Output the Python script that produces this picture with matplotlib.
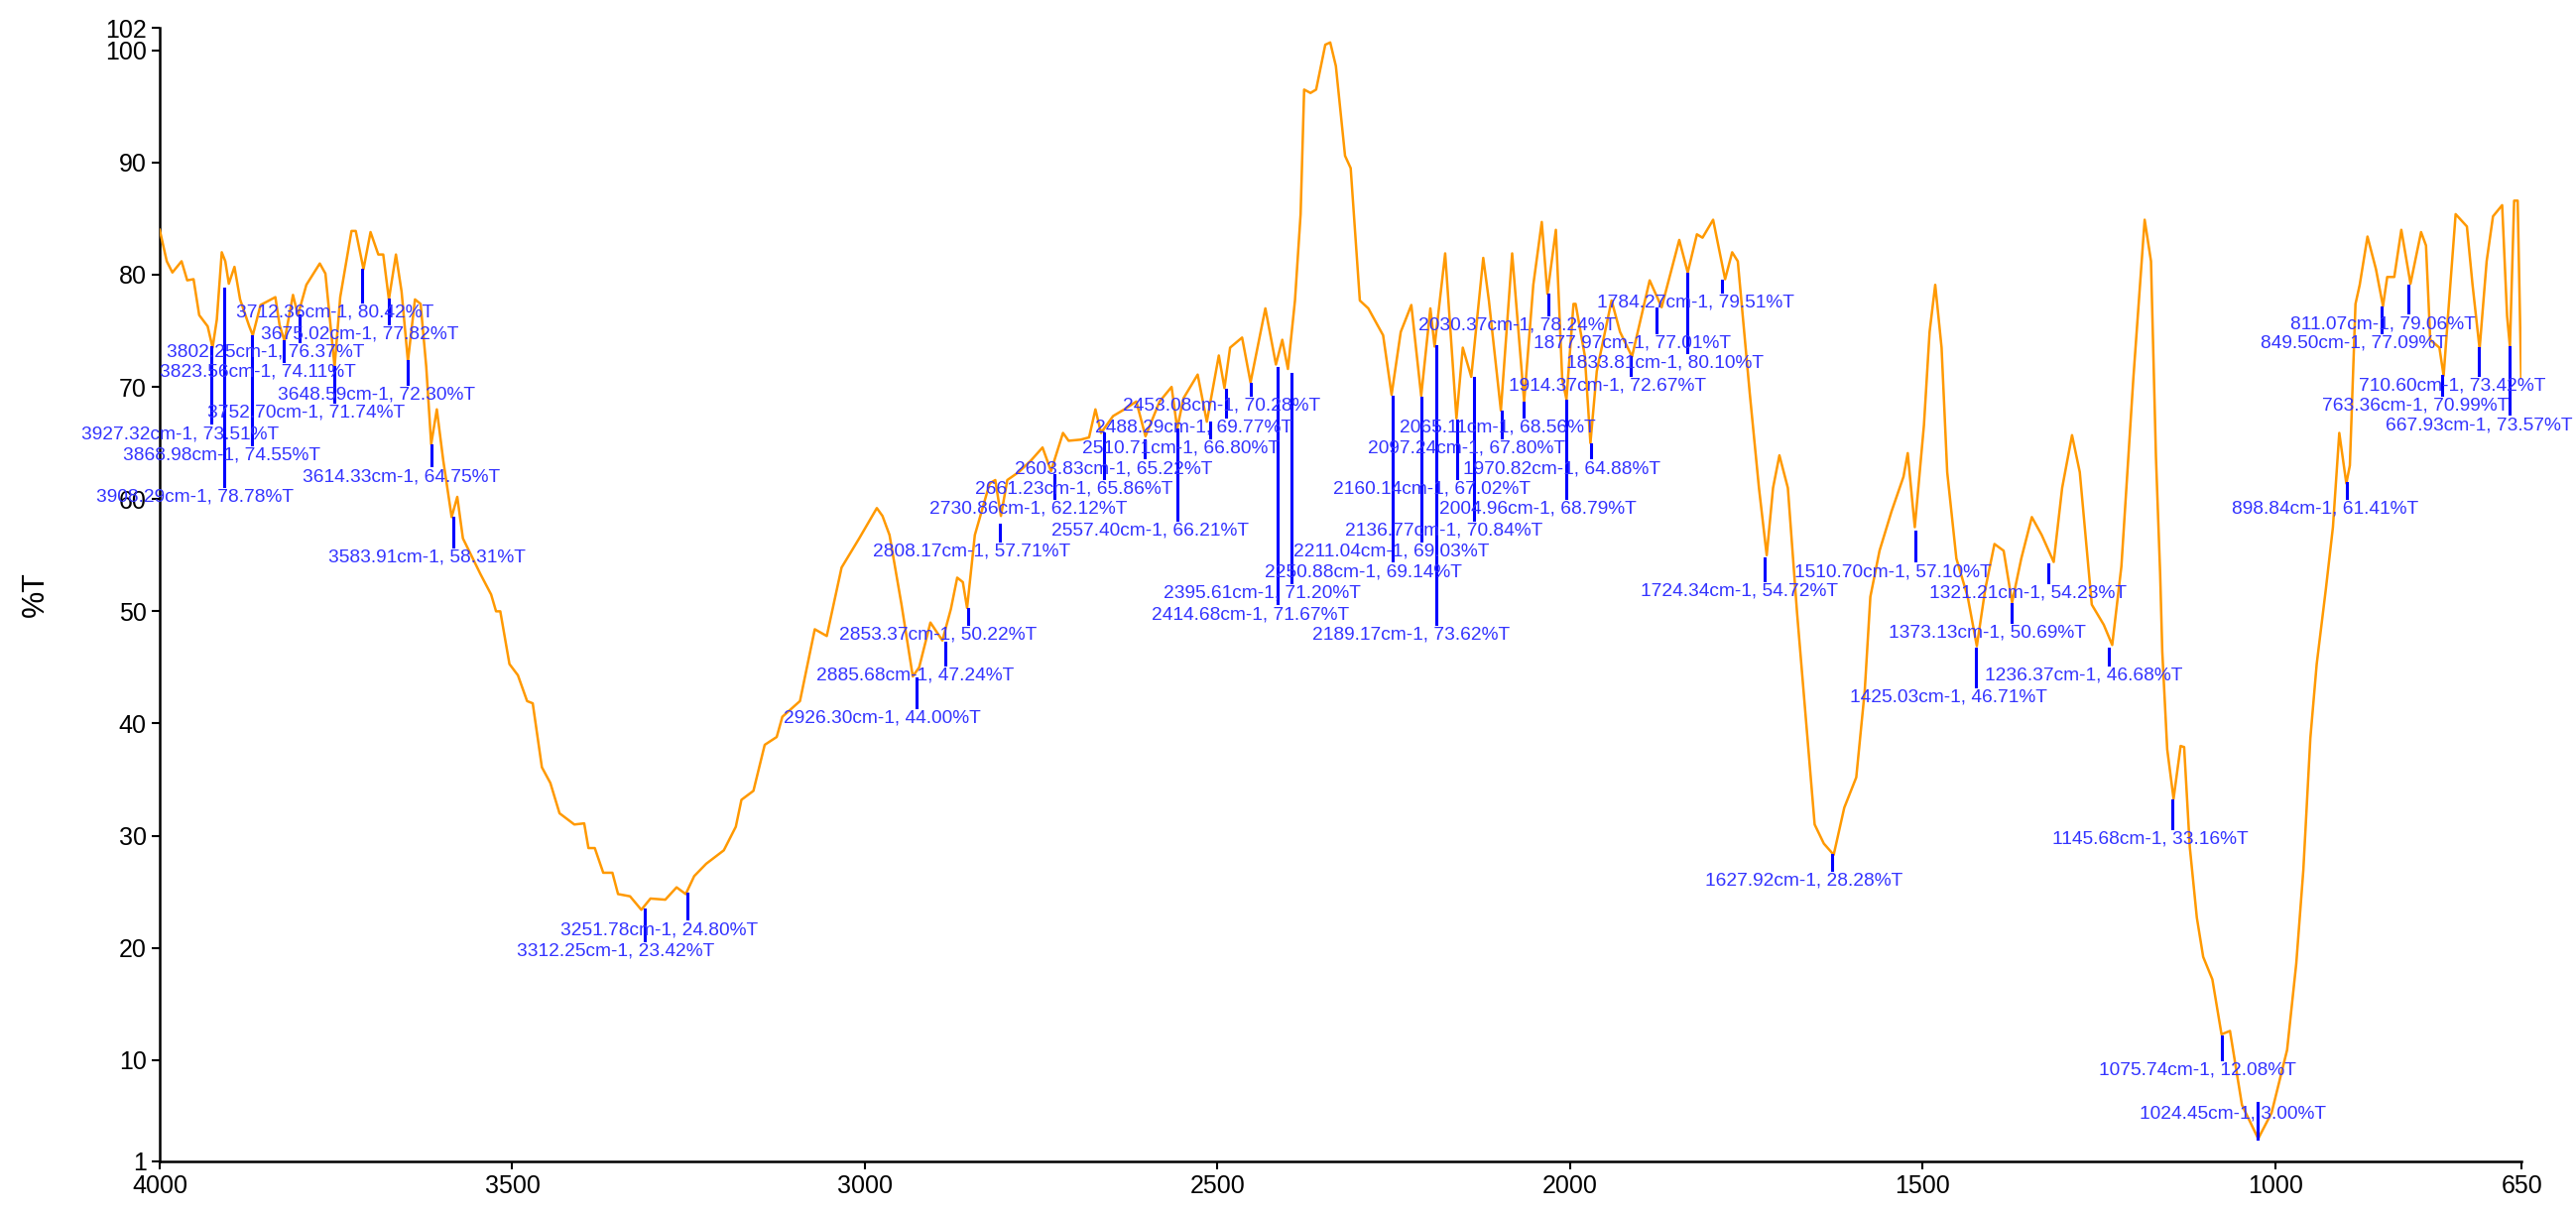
import matplotlib
matplotlib.use("Agg")
import matplotlib.pyplot as plt

wn = [4000,3990,3982,3969,3961,3952,3944,3932,3925,3919,3912,3907,3902,3894,3886,3873,3868,3857,3836,3830,3823,3811,3804,3792,3773,3765,3752,3744,3728,3722,3711,3701,3690,3683,3675,3665,3657,3648,3638,3630,3622,3615,3607,3598,3586,3578,3570,3545,3530,3523,3517,3504,3492,3479,3471,3458,3446,3433,3412,3398,3392,3383,3371,3358,3350,3333,3317,3304,3283,3267,3254,3242,3225,3200,3183,3175,3158,3142,3125,3117,3092,3071,3054,3033,3008,2983,2975,2965,2948,2932,2923,2907,2890,2878,2869,2861,2855,2844,2823,2815,2807,2798,2782,2765,2748,2736,2719,2711,2694,2682,2673,2665,2648,2632,2615,2602,2582,2565,2557,2548,2528,2515,2498,2490,2482,2465,2453,2432,2417,2408,2400,2390,2382,2377,2368,2360,2347,2340,2332,2319,2311,2298,2286,2265,2253,2240,2225,2211,2198,2192,2177,2161,2152,2140,2123,2115,2098,2082,2065,2052,2040,2032,2020,2011,2005,1995,1992,1979,1971,1962,1941,1929,1912,1887,1870,1845,1833,1820,1812,1797,1780,1770,1762,1745,1732,1721,1712,1703,1691,1678,1666,1653,1640,1626,1611,1594,1582,1574,1561,1544,1527,1521,1511,1498,1490,1482,1473,1465,1452,1436,1423,1411,1398,1385,1373,1360,1345,1331,1314,1302,1288,1277,1260,1243,1231,1218,1201,1185,1176,1169,1163,1160,1153,1144,1134,1129,1121,1111,1102,1089,1076,1064,1047,1024,1005,983,970,960,950,941,928,918,909,899,894,886,880,869,857,847,841,831,821,808,793,786,780,767,761,754,744,728,720,710,700,691,678,671,667,661,656,651]
tr = [84.0,81.2,80.2,81.2,79.5,79.6,76.4,75.4,73.5,76.0,82.0,81.2,79.2,80.7,77.8,75.4,74.6,77.3,78.0,75.5,74.1,78.2,76.4,79.1,81.0,80.1,71.8,78.0,83.9,83.9,80.5,83.8,81.8,81.8,77.8,81.8,78.5,72.3,77.8,77.4,71.8,64.9,68.0,63.5,58.4,60.2,56.5,53.3,51.5,50.0,50.0,45.3,44.3,42.0,41.8,36.1,34.7,32.0,31.0,31.1,28.9,28.9,26.7,26.7,24.8,24.6,23.4,24.4,24.3,25.4,24.8,26.4,27.5,28.7,30.8,33.2,34.0,38.1,38.8,40.6,42.0,48.4,47.8,53.9,56.5,59.2,58.5,56.8,50.6,44.2,45.0,49.0,47.4,50.2,53.0,52.6,50.3,56.8,61.4,61.7,58.5,61.7,62.4,63.4,64.6,62.5,65.9,65.2,65.3,65.5,68.0,65.9,67.4,68.0,68.7,65.6,68.7,70.0,66.3,69.0,71.1,66.9,72.8,69.9,73.5,74.4,70.4,77.0,72.0,74.2,71.6,77.7,85.4,96.5,96.2,96.5,100.5,100.7,98.6,90.6,89.5,77.7,77.0,74.6,69.3,74.9,77.3,69.2,77.0,73.6,81.9,67.2,73.5,70.9,81.5,77.7,67.9,81.9,68.7,79.1,84.7,78.3,84.0,70.7,68.9,77.4,77.4,72.8,65.0,71.4,77.7,74.9,72.7,79.5,77.1,83.1,80.2,83.6,83.3,84.9,79.6,82.0,81.2,69.4,61.0,55.0,61.0,63.9,61.0,49.9,40.8,31.0,29.3,28.3,32.5,35.2,42.9,51.3,55.4,58.9,62.0,64.1,57.5,66.6,74.9,79.1,73.5,62.4,54.7,51.3,46.9,52.0,56.0,55.4,50.8,54.7,58.4,56.8,54.4,61.0,65.7,62.4,50.6,48.8,47.0,54.0,70.8,84.9,81.2,63.8,53.3,46.4,37.7,33.3,38.0,37.9,29.0,22.7,19.2,17.2,12.3,12.6,6.0,3.0,5.3,10.9,18.6,26.9,38.7,45.3,52.0,57.5,65.9,61.4,63.0,77.4,79.1,83.4,80.5,77.2,79.8,79.8,84.0,79.2,83.8,82.6,74.2,73.5,71.0,77.0,85.4,84.3,79.1,73.4,81.2,85.2,86.2,76.3,73.6,86.6,86.6,70.8]

peak_wn = [3712.36,3675.02,3802.25,3823.56,3648.59,3752.70,3927.32,3868.98,3614.33,3908.29,3583.91,3251.78,3312.25,2808.17,2853.37,2885.68,2926.30,2453.08,2488.29,2510.71,2603.83,2661.23,2730.86,2557.40,2395.61,2414.68,2189.17,2250.88,2211.04,2136.77,2004.96,2160.14,1970.82,2097.24,2065.11,1914.37,2030.37,1877.97,1833.81,1784.27,1724.34,1510.70,1321.21,1373.13,1425.03,1236.37,1627.92,1145.68,1075.74,1024.45,898.84,811.07,849.50,710.60,763.36,667.93]
peak_t = [80.42,77.82,76.37,74.11,72.30,71.74,73.51,74.55,64.75,78.78,58.31,24.80,23.42,57.71,50.22,47.24,44.00,70.28,69.77,66.80,65.22,65.86,62.12,66.21,71.20,71.67,73.62,69.14,69.03,70.84,68.79,67.02,64.88,67.80,68.56,72.67,78.24,77.01,80.10,79.51,54.72,57.10,54.23,50.69,46.71,46.68,28.28,33.16,12.08,3.00,61.41,79.06,77.09,73.42,70.99,73.57]
label_x = [3892,3857,3990,4000,3832,3933,4111,4052,3798,4090,3761,3432,3494,2988,3037,3069,3115,2634,2673,2692,2788,2844,2909,2736,2577,2594,2365,2433,2392,2319,2186,2336,2152,2286,2242,2087,2215,2052,2006,1961,1900,1682,1490,1548,1603,1411,1808,1316,1250,1192,1062,978,1020,882,933,844]
label_y = [76.6,74.7,73.1,71.3,69.3,67.7,65.8,63.9,62.0,60.2,54.8,21.6,19.7,55.3,47.9,44.3,40.5,68.3,66.4,64.5,62.7,60.9,59.1,57.2,51.6,49.7,47.9,53.5,55.3,57.2,59.1,60.9,62.7,64.5,66.4,70.1,75.5,73.9,72.1,77.5,51.8,53.5,51.6,48.1,42.3,44.3,26.0,29.7,9.1,5.2,59.1,75.6,73.9,70.1,68.3,66.6]

fig = plt.figure(figsize=(25.97, 12.22), dpi=100)
ax = fig.add_axes([0.062, 0.042, 0.917, 0.935])
ax.plot(wn, tr, color="#ff9900", lw=1.8, zorder=3)
for px, pt, lx, ly in zip(peak_wn, peak_t, label_x, label_y):
    ax.plot([px, px], [pt, ly + 1.0], color="#0000ff", lw=2.2, zorder=4)
    ax.text(lx, ly, f"{px:.2f}cm-1, {pt:.2f}%T", color="#3333ff", fontsize=13.8,
            family="Liberation Sans", va="center", ha="left", clip_on=False, zorder=5)
ax.set_xlim(4000, 650)
ax.set_ylim(1, 102)
ax.set_xticks([4000,3500,3000,2500,2000,1500,1000,650])
ax.set_yticks([1,10,20,30,40,50,60,70,80,90,100,102])
for s in ["top","right"]:
    ax.spines[s].set_visible(False)
for s in ["left","bottom"]:
    ax.spines[s].set_linewidth(1.8)
ax.tick_params(labelsize=18, width=1.5, length=6)
for t in ax.get_xticklabels()+ax.get_yticklabels():
    t.set_family("Liberation Sans")
ax.set_ylabel("%T", fontsize=22, family="Liberation Sans", labelpad=40)
fig.savefig("out.png", dpi=100)
